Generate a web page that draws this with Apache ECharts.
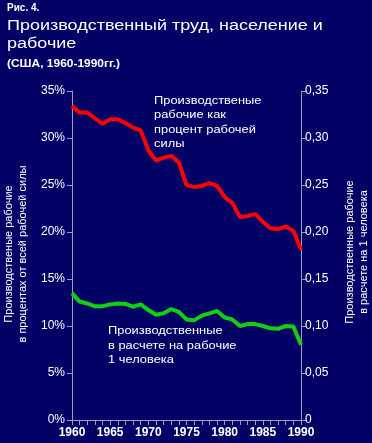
<!DOCTYPE html>
<html><head><meta charset="utf-8">
<script src="https://cdn.jsdelivr.net/npm/echarts@6/dist/echarts.min.js"></script>
<style>html,body{margin:0;padding:0;background:#020266}#c{width:372px;height:443px}</style>
</head><body><div id="c"></div>
<script>
var years = [1960,1961,1962,1963,1964,1965,1966,1967,1968,1969,1970,1971,1972,1973,1974,1975,1976,1977,1978,1979,1980,1981,1982,1983,1984,1985,1986,1987,1988,1989,1990];
var pctWorkforce = [33.4,32.7,32.7,32.1,31.5,32.0,32.0,31.6,31.1,30.8,28.7,27.6,27.9,28.1,27.4,25.0,24.8,24.9,25.2,24.9,23.7,23.1,21.6,21.7,21.9,21.1,20.4,20.3,20.6,20.1,18.1];
var perCapita = [0.135,0.126,0.124,0.121,0.121,0.123,0.124,0.1235,0.1205,0.123,0.117,0.112,0.1135,0.118,0.115,0.107,0.106,0.111,0.1135,0.116,0.109,0.107,0.100,0.102,0.102,0.100,0.0975,0.097,0.100,0.0995,0.080];
var F = "'Liberation Sans', Arial, sans-serif";
var axisCol = '#9c9cb4';
var chart = echarts.init(document.getElementById('c'));
chart.setOption({
  backgroundColor: '#020266',
  animation: false,
  grid: {left: 72, right: 71, top: 91, bottom: 23},
  xAxis: {
    type: 'value', min: 1960, max: 1990, interval: 1,
    axisLine: {lineStyle: {color: axisCol}},
    axisTick: {show: true, length: 5, lineStyle: {color: axisCol}},
    splitLine: {show: false},
    axisLabel: {color: '#fff', fontFamily: F, fontSize: 12, fontWeight: 'bold', margin: 7,
      formatter: function(v){ return v % 5 === 0 ? String(v) : ''; }}
  },
  yAxis: [{
    type: 'value', min: 0, max: 35, interval: 5, position: 'left',
    axisLine: {show: true, lineStyle: {color: axisCol}},
    axisTick: {show: true, length: 5, lineStyle: {color: axisCol}},
    splitLine: {show: false},
    axisLabel: {color: '#fff', fontFamily: F, fontSize: 12, margin: 7, formatter: '{value}%'}
  },{
    type: 'value', min: 0, max: 0.35, interval: 0.05, position: 'right',
    axisLine: {show: true, lineStyle: {color: axisCol}},
    axisTick: {show: true, length: 5, lineStyle: {color: axisCol}},
    splitLine: {show: false},
    axisLabel: {color: '#fff', fontFamily: F, fontSize: 12, margin: 4,
      formatter: function(v){ return v === 0 ? '0' : v.toFixed(2).replace('.', ','); }}
  }],
  series: [{
    type: 'line', yAxisIndex: 0, symbol: 'none', smooth: false,
    lineStyle: {color: '#ff0000', width: 4},
    data: years.map(function(y,i){ return [y, pctWorkforce[i]]; })
  },{
    type: 'line', yAxisIndex: 1, symbol: 'none', smooth: false,
    lineStyle: {color: '#10d010', width: 4},
    data: years.map(function(y,i){ return [y, perCapita[i]]; })
  }],
  graphic: [
    {type:'text', x: 7, y: 2, style:{text:'Рис. 4.', fill:'#fff', font:'bold 10px '+F, lineHeight: 12, verticalAlign:'top'}},
    {type:'text', x: 7, y: 17, scaleX: 1.16, style:{text:'Производственный труд, население и\nрабочие', fill:'#fff', font:'15.5px '+F, lineHeight: 17.8, verticalAlign:'top'}},
    {type:'text', x: 7, y: 58, scaleX: 1.16, style:{text:'(США, 1960-1990гг.)', fill:'#fff', font:'bold 10.3px '+F, lineHeight: 12, verticalAlign:'top'}},
    {type:'text', x: 154, y: 93.5, scaleX: 1.12, style:{text:'Производственые\nрабочие как\nпроцент рабочей\nсилы', fill:'#fff', font:'11.5px '+F, lineHeight: 14.5, verticalAlign:'top'}},
    {type:'text', x: 108, y: 324, scaleX: 1.12, style:{text:'Производственные\nв расчете на рабочие\n1 человека', fill:'#fff', font:'11.5px '+F, lineHeight: 14.5, verticalAlign:'top'}},
    {type:'text', x: 16, y: 254, rotation: Math.PI/2, style:{text:'Производственые рабочие\nв процентах от всей рабочей силы', fill:'#fff', font:'11px '+F, lineHeight: 13.5, align:'center', verticalAlign:'middle'}},
    {type:'text', x: 357, y: 252, rotation: Math.PI/2, style:{text:'Производственные рабочие\nв расчете на 1 человека', fill:'#fff', font:'11px '+F, lineHeight: 13.5, align:'center', verticalAlign:'middle'}}
  ]
});
</script></body></html>
